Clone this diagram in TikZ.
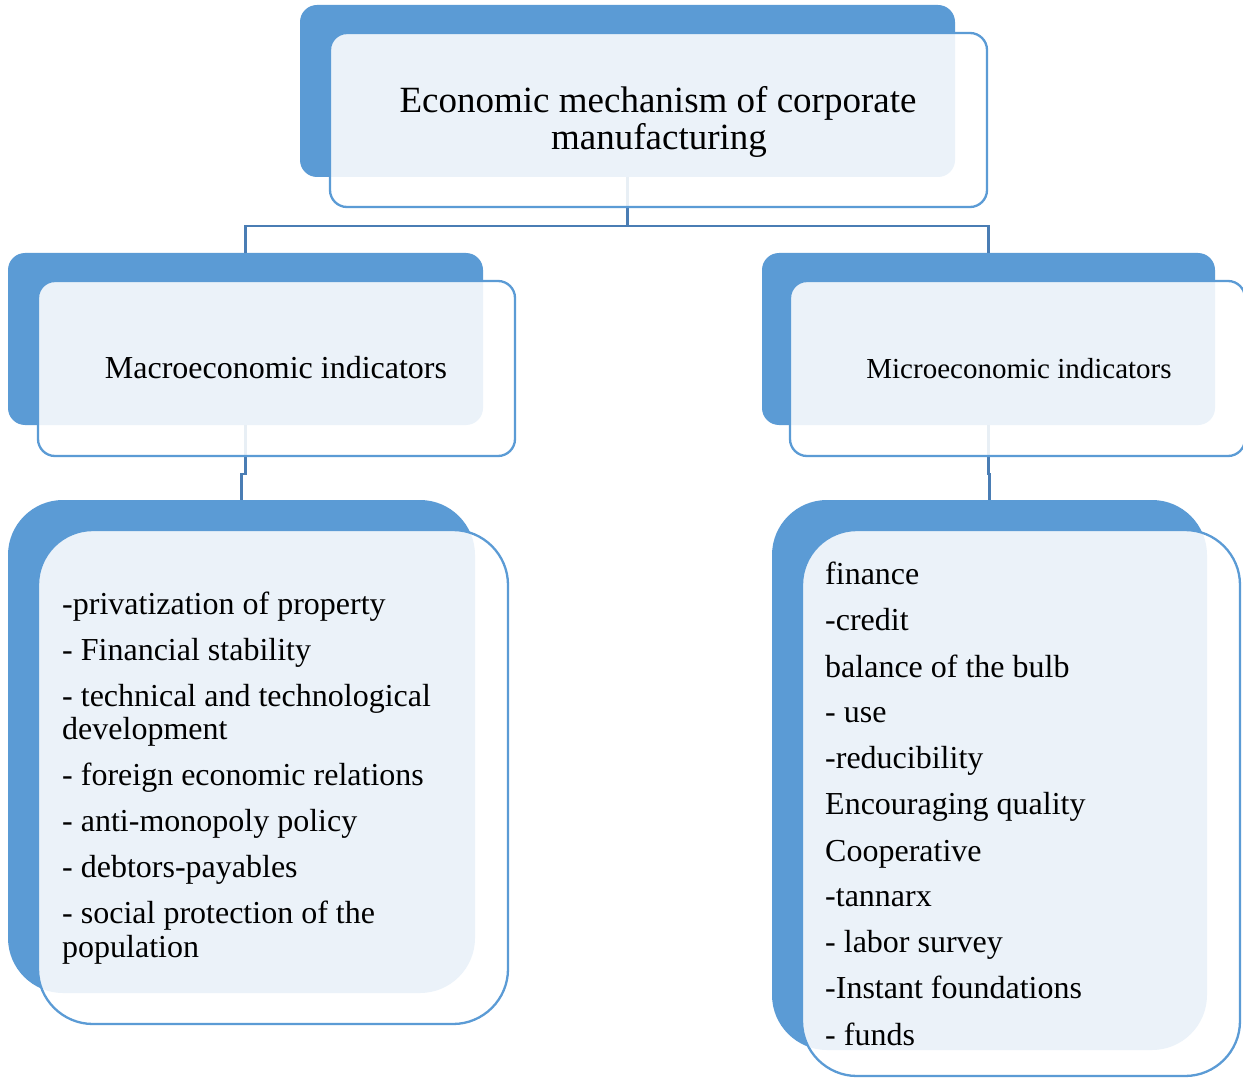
\documentclass[tikz,border=0pt]{standalone}
\usepackage{fontspec}
\setmainfont{Liberation Serif}
\definecolor{boxblue}{HTML}{5B9BD5}
\definecolor{linkblue}{HTML}{4A7DB4}
\begin{document}
\begin{tikzpicture}[x=1pt,y=-1pt,
  back/.style={rectangle, fill=boxblue, draw=none, inner sep=0pt, rounded corners=#1},
  back/.default=17pt,
  front/.style={rectangle, draw=boxblue, line width=2.3pt, fill=white, fill opacity=0.88, inner sep=0pt, rounded corners=#1},
  front/.default=17pt,
  link/.style={draw=linkblue, line width=2.3pt},
  title/.style={inner sep=0pt, font=\fontsize{37}{37}\selectfont, anchor=base},
  head/.style={inner sep=0pt, font=\fontsize{32}{38}\selectfont, anchor=base},
  item/.style={inner sep=0pt, font=\fontsize{32}{38}\selectfont, anchor=base west}]
\useasboundingbox (0,0) rectangle (1243,1078);
\fill[white] (0,0) rectangle (1243,1078);

% back boxes
\node[back, minimum width=655pt, minimum height=172pt] (topB) at (627.5,91) {};
\node[back, minimum width=475pt, minimum height=172pt] (midLB) at (245.5,339) {};
\node[back, minimum width=453pt, minimum height=172pt] (midRB) at (988.5,339) {};
\node[back=55pt, minimum width=467pt, minimum height=493pt] (botLB) at (241.5,746.5) {};
\node[back=55pt, minimum width=435pt, minimum height=550pt] (botRB) at (989.5,775) {};

% connectors
\draw[link] (topB.south) -- ++(0,49) coordinate (hub);
\draw[link] (midLB.north) |- (hub) -| (midRB.north);
\draw[link] (midLB.south) -- ++(0,49) -| (botLB.north);
\draw[link] (midRB.south) -- ++(0,49) -| (botRB.north);

% front boxes
\node[front, minimum width=657pt, minimum height=174pt] (topF) at (658.5,120) {};
\node[front, minimum width=477pt, minimum height=175pt] (midLF) at (276.5,368.5) {};
\node[front, minimum width=455pt, minimum height=175pt] (midRF) at (1017.5,368.5) {};
\node[front=55pt, minimum width=470pt, minimum height=494pt] (botLF) at (273,777) {};
\node[front=55pt, minimum width=438pt, minimum height=546pt] (botRF) at (1021,803) {};

% texts
\node[title] (t1) at (658,113) {Economic mechanism of corporate};
\node[title] (t2) at (659,150) {manufacturing};
\node[head] (macro) at (276,378) {Macroeconomic indicators};
\node[head, font=\fontsize{29}{35}\selectfont] (micro) at (1019,378) {Microeconomic indicators};

\node[item] (l1) at (62,614) {-privatization of property};
\node[item] (l2) at (62,660) {- Financial stability};
\node[item] (l3) at (62,706) {- technical and technological};
\node[item] (l4) at (62,739) {development};
\node[item] (l5) at (62,785) {- foreign economic relations};
\node[item] (l6) at (62,831) {- anti-monopoly policy};
\node[item] (l7) at (62,877) {- debtors-payables};
\node[item] (l8) at (62,923) {- social protection of the};
\node[item] (l9) at (62,957) {population};

\node[item] (r1) at (825,584) {finance};
\node[item] (r2) at (825,630) {-credit};
\node[item] (r3) at (825,677) {balance of the bulb};
\node[item] (r4) at (825,722) {- use};
\node[item] (r5) at (825,768) {-reducibility};
\node[item] (r6) at (825,814) {Encouraging quality};
\node[item] (r7) at (825,861) {Cooperative};
\node[item] (r8) at (825,906) {-tannarx};
\node[item] (r9) at (825,952) {- labor survey};
\node[item] (r10) at (825,998) {-Instant foundations};
\node[item] (r11) at (825,1045) {- funds};
\end{tikzpicture}
\end{document}
